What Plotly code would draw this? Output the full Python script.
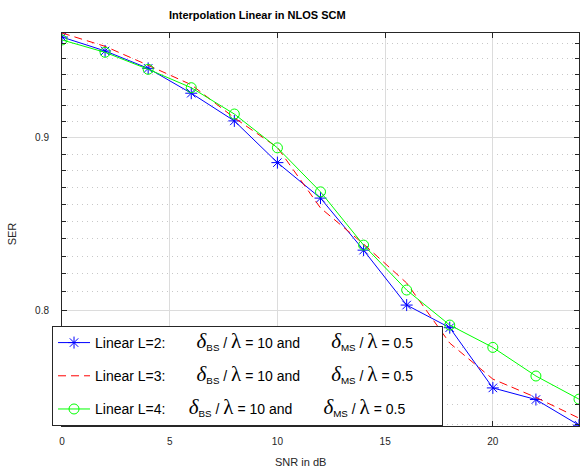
import plotly.graph_objects as go

snr = [0, 2, 4, 6, 8, 10, 12, 14, 16, 18, 20, 22, 24]
ser_L2 = [0.9641, 0.9550, 0.9437, 0.9278, 0.9104, 0.8848, 0.8636, 0.8334, 0.8027, 0.7904, 0.7585, 0.7525, 0.7394]
ser_L3 = [0.9668, 0.9580, 0.9457, 0.9332, 0.9123, 0.8940, 0.8578, 0.8369, 0.8149, 0.7821, 0.7631, 0.7536, 0.7430]
ser_L4 = [0.9622, 0.9541, 0.9431, 0.9313, 0.9147, 0.8938, 0.8673, 0.8363, 0.8110, 0.7918, 0.7798, 0.7647, 0.7527]

x_ticks = [0, 5, 10, 15, 20]
y_major = [0.8, 0.9]
y_minor = [0.74, 0.75, 0.76, 0.77, 0.78, 0.79, 0.81, 0.82, 0.83, 0.84, 0.85, 0.86, 0.87,
           0.88, 0.89, 0.91, 0.92, 0.93, 0.94, 0.95, 0.96]

NB = "\u00a0"
SERIF = "font-family:'Liberation Serif','Times New Roman',serif;font-size:21px"
D = f"<span style=\"{SERIF}\"><i>δ</i></span>"
LAM = f"<span style=\"{SERIF}\">λ</span>"


def lname(L, gap1=8, gap2=8, tail=6):
    return (f"Linear L={L}:" + NB * gap1 + D + "<sub>BS</sub> / " + LAM + " = 10 and"
            + NB * gap2 + D + "<sub>MS</sub> / " + LAM + " = 0.5" + NB * tail)


AX = "#262626"
fig = go.Figure()
fig.add_trace(go.Scatter(x=snr, y=ser_L2, mode="lines+markers", name=lname(2),
                         legendgroup="a",
                         line=dict(color="#0000ff", width=1),
                         marker=dict(symbol="asterisk-open", size=10, color="#0000ff",
                                     line=dict(color="#0000ff", width=1))))
fig.add_trace(go.Scatter(x=snr, y=ser_L3, mode="lines", name=lname(3),
                         legendgroup="b",
                         line=dict(color="#ff0000", width=1, dash="8px,5px")))
fig.add_trace(go.Scatter(x=snr, y=ser_L4, mode="lines+markers", name=lname(4, 6, 8),
                         legendgroup="c",
                         line=dict(color="#00ff00", width=1),
                         marker=dict(symbol="circle-open", size=10, color="#00ff00",
                                     line=dict(color="#00ff00", width=1))))

fig.update_layout(
    width=581, height=471,
    margin=dict(l=62, r=2, t=33, b=45),
    paper_bgcolor="white", plot_bgcolor="white",
    font=dict(family="'Liberation Sans', Arial, sans-serif", color=AX, size=10),
    showlegend=True,
    legend=dict(x=-0.0193, y=0.2545, xanchor="left", yanchor="top",
                bgcolor="white", bordercolor=AX, borderwidth=1,
                font=dict(size=14, color="black"),
                traceorder="grouped", tracegroupgap=12, itemwidth=32),
    xaxis=dict(range=[0, 24], tickvals=x_ticks, ticks="inside", ticklen=5,
               tickcolor=AX, showline=True, linecolor=AX, linewidth=1, mirror="ticks",
               showgrid=True, gridcolor="#dcdcdc", gridwidth=1, zeroline=False,
               tickfont=dict(size=10, color=AX), ticklabelstandoff=6),
    yaxis=dict(type="log", range=[-0.13135, -0.01467], tickvals=y_major,
               ticktext=["0.8", "0.9"], ticks="inside", ticklen=5,
               tickcolor=AX, showline=True, linecolor=AX, linewidth=1, mirror="ticks",
               showgrid=True, gridcolor="#dcdcdc", gridwidth=1, zeroline=False,
               tickfont=dict(size=10, color=AX), ticklabelstandoff=10,
               minor=dict(tickvals=y_minor, ticks="inside", ticklen=4, tickcolor=AX,
                          showgrid=True, gridcolor="#c8c8c8", griddash="1px,4px", gridwidth=1)),
    annotations=[
        dict(text="<b>Interpolation Linear in NLOS SCM</b>", xref="paper", yref="paper",
             x=0.3775, y=1.0458, xanchor="center", yanchor="middle", showarrow=False,
             font=dict(size=11, color="black")),
        dict(text="SNR in dB", xref="paper", yref="paper", x=0.4607, y=-0.0908,
             xanchor="center", yanchor="middle", showarrow=False,
             font=dict(size=11, color=AX)),
        dict(text="SER", xref="paper", yref="paper", x=-0.0961, y=0.4885,
             xanchor="center", yanchor="middle", showarrow=False, textangle=-90,
             font=dict(size=11, color=AX)),
    ],
)

fig.write_html("out.html")
